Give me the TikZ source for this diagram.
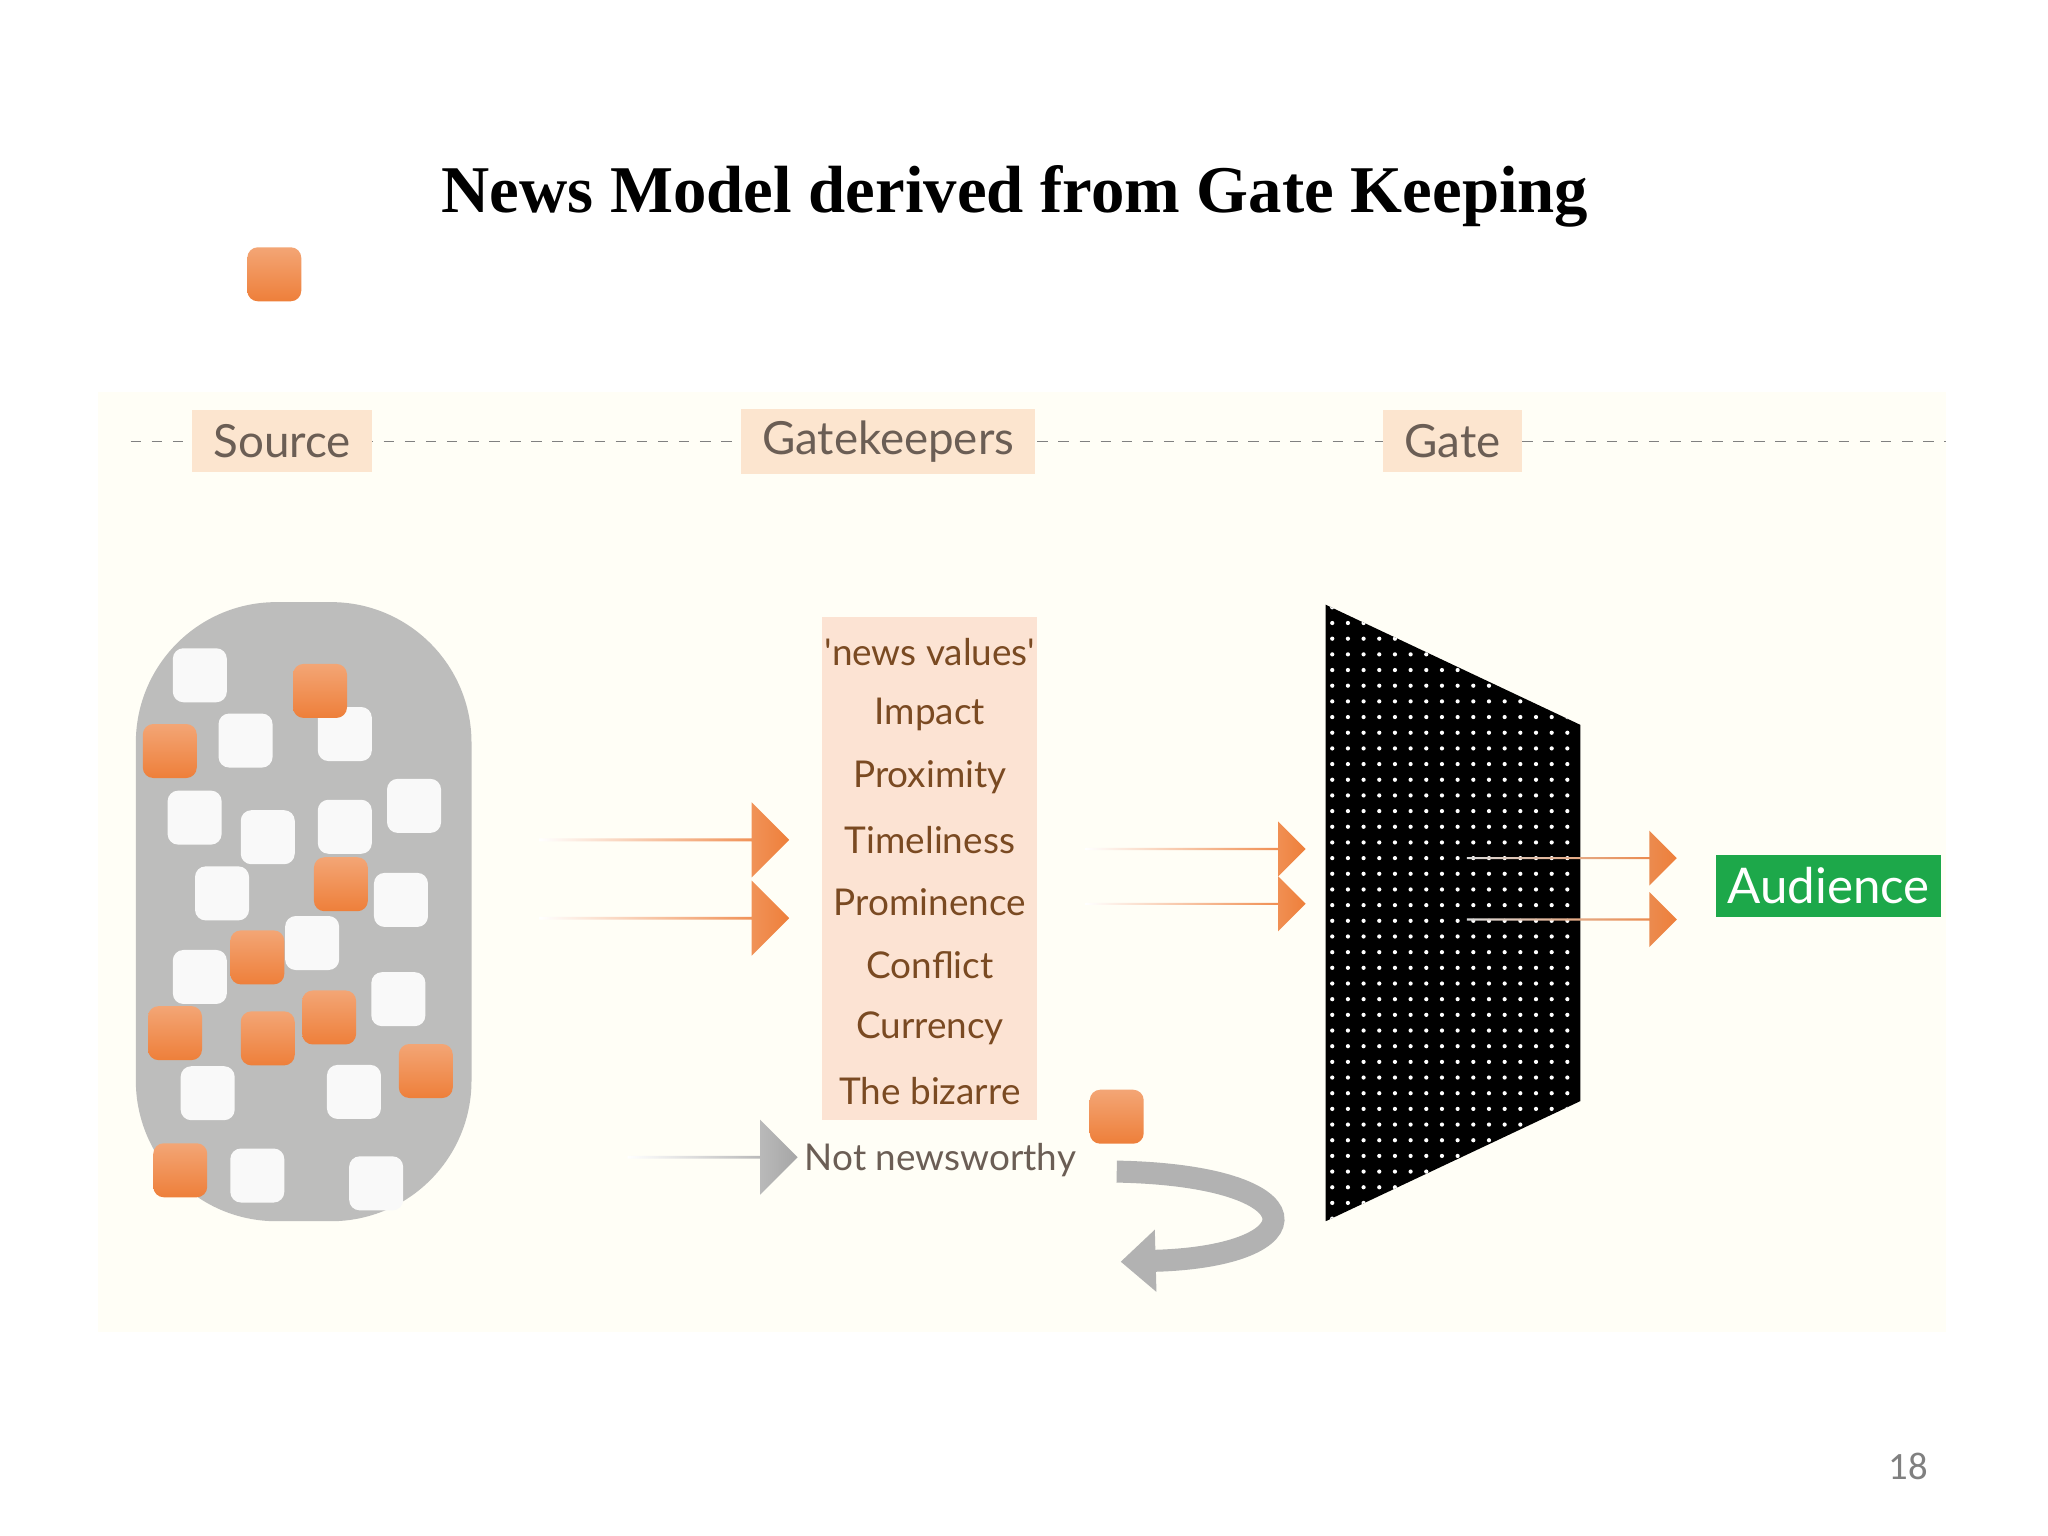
\documentclass[tikz,border=0pt]{standalone}
\usepackage{fontspec}
\setmainfont{Liberation Serif}
\newfontfamily\labelfont{Lato}
\newfontfamily\numfont{Carlito}
\usetikzlibrary{shapes.arrows, arrows.meta, positioning}
\definecolor{panelbg}{HTML}{FFFEF6}
\definecolor{peach}{HTML}{FCE5CF}
\definecolor{valuebg}{HTML}{FCE3D3}
\definecolor{labelgray}{HTML}{6B5E55}
\definecolor{valuebrown}{HTML}{7A4A22}
\definecolor{srcgray}{HTML}{BDBDBC}
\definecolor{newsorange}{HTML}{EE7F3A}
\definecolor{audgreen}{HTML}{1DA84A}

\begin{document}
\begin{tikzpicture}[
    x=0.013061cm, y=-0.013061cm,
    stage/.style={
        font=\labelfont\fontsize{13}{13}\selectfont,
        text=labelgray,
        fill=peach,
        minimum height=0.62cm,
        inner xsep=6pt
    },
    value/.style={
        font=\labelfont\fontsize{10.5}{10.5}\selectfont,
        text=valuebrown
    },
    item/.style={
        minimum size=0.54cm,
        rounded corners=3pt,
        inner sep=0pt
    },
    flow/.style={
        single arrow,
        single arrow head extend=5pt,
        minimum height=2.5cm,
        minimum width=0.75cm,
        inner sep=0pt,
        shape border uses incircle=false,
        left color=white,
        right color=newsorange
    }
]

% page
\useasboundingbox (0,0) rectangle (1568,1176);
\fill[white] (0,0) rectangle (1568,1176);
\node[font=\bfseries\fontsize{19}{19}\selectfont] (title) at (777,150) {News Model derived from Gate Keeping};

% panel and stages
\fill[panelbg] (75,300) rectangle (1490,1020);
\coordinate (lineL) at (100,338);
\coordinate (lineR) at (1490,338);
\draw[gray, dashed, thin] (lineL) -- (lineR);
\node[stage] (source) at (216,338) {Source};
\node[stage] (gatekeepers) at (680,338) {Gatekeepers};
\node[stage] (gate) at (1112,338) {Gate};

% source pool
\fill[srcgray, rounded corners=40] (104,461) rectangle (361,935);
\foreach \px/\py [count=\i] in {153/517,188/567,264/562,149/626,205/641,264/633,317/617,
    170/684,239/722,307/689,153/748,305/765,159/837,271/836,197/900,288/906}
    \node[item, fill=white!95!gray] (w\i) at (\px,\py) {};
\foreach \px/\py [count=\i] in {245/529,130/575,261/677,197/733,134/791,205/795,252/779,
    326/820,210,855,138/896}
    \node[item, top color=newsorange!70, bottom color=newsorange] (o\i) at (\px,\py) {};

% flows into gatekeepers
\node[flow] (in1) at (508,643) {};
\node[flow] (in2) at (508,703) {};
\node[flow, minimum height=1.7cm, right color=gray!70] (reject) at (545,886) {};

% news values
\node[fill=valuebg, minimum width=2.15cm, minimum height=5.03cm] (values) at (712,665) {};
\foreach \txt [count=\i] in {{'news values'},Impact,Proximity,Timeliness,Prominence,Conflict,Currency,The bizarre}
    \node[value] (v\i) at (712,451+48*\i) {\txt};
\node[value, text=labelgray] (notnews) at (720,888) {Not newsworthy};

% flows into gate
\node[flow, minimum height=2.2cm, minimum width=0.55cm] (mid1) at (915,650) {};
\node[flow, minimum height=2.2cm, minimum width=0.55cm] (mid2) at (915,692) {};

% returned items
\coordinate (backA) at (855,897);
\coordinate (backB) at (858,966);
\draw[line width=0.22cm, gray!60, -{Triangle[length=0.35cm, width=0.6cm]}]
    (backA) .. controls (1010,900) and (1010,962) .. (backB);

% gate
\fill[black] (1015,463) -- (1210,555) -- (1210,843) -- (1015,935) -- cycle;
\begin{scope}
    \clip (1015,463) -- (1210,555) -- (1210,843) -- (1015,935) -- cycle;
    \foreach \gx in {1020,1032,...,1210}
        \foreach \gy in {465,477,...,935}
            \fill[white] (\gx,\gy) circle (0.6pt);
\end{scope}

% out of gate
\node[flow, minimum height=2.1cm, minimum width=0.55cm, left color=gray!30, right color=newsorange] (out1) at (1203,657) {};
\node[flow, minimum height=2.1cm, minimum width=0.55cm, left color=gray!30, right color=newsorange] (out2) at (1203,704) {};
\node[fill=audgreen, text=white, font=\labelfont\fontsize{14}{14}\selectfont, minimum width=2.12cm, minimum height=0.62cm] (audience) at (1400,678) {Audience};

\node[font=\numfont\fontsize{11}{11}\selectfont, text=gray] (page) at (1461,1123) {18};

\end{tikzpicture}
\end{document}
